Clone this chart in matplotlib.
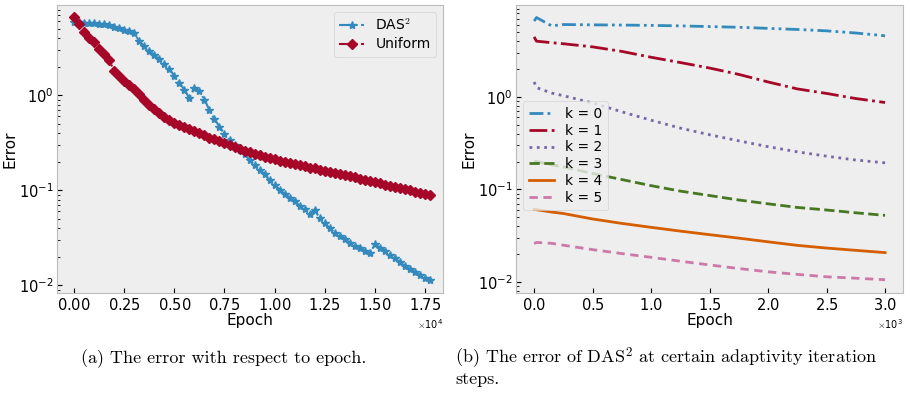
import matplotlib
matplotlib.use("Agg")
import matplotlib.pyplot as plt
import numpy as np

plt.style.use("bmh")

# (a) error vs epoch, values read every 250 epochs
epochs_a = np.arange(0, 17751, 250)
err_das = [5.9, 5.85, 5.8, 5.75, 5.75, 5.7, 5.6, 5.45, 5.3, 5.1, 4.9, 4.75, 4.55,
           3.7, 3.3, 2.95, 2.65, 2.4, 2.15, 1.9, 1.6, 1.35, 1.15, 0.93, 1.2, 1.1,
           0.9, 0.7, 0.56, 0.47, 0.39, 0.34, 0.3, 0.265, 0.24, 0.21, 0.185, 0.165,
           0.148, 0.128, 0.114, 0.102, 0.092, 0.084, 0.077, 0.069, 0.063, 0.057,
           0.062, 0.051, 0.045, 0.040, 0.036, 0.033, 0.031, 0.028, 0.026, 0.0245,
           0.023, 0.022, 0.027, 0.025, 0.023, 0.021, 0.0195, 0.0175, 0.016, 0.0148,
           0.0138, 0.0128, 0.0120, 0.0115]
err_uni = [6.7, 5.6, 4.6, 4.0, 3.6, 3.1, 2.75, 2.35, 1.8, 1.58, 1.43, 1.28, 1.16,
           1.03, 0.9, 0.8, 0.71, 0.65, 0.59, 0.55, 0.51, 0.485, 0.46, 0.44, 0.42,
           0.4, 0.38, 0.36, 0.345, 0.33, 0.315, 0.30, 0.285, 0.272, 0.262, 0.252,
           0.243, 0.235, 0.227, 0.22, 0.213, 0.206, 0.20, 0.195, 0.19, 0.184, 0.179,
           0.174, 0.170, 0.165, 0.161, 0.157, 0.153, 0.149, 0.145, 0.141, 0.137,
           0.133, 0.129, 0.126, 0.122, 0.119, 0.115, 0.112, 0.109, 0.106, 0.103,
           0.100, 0.097, 0.094, 0.091, 0.089]

# (b) error at adaptivity steps k
epochs_b = [0, 20, 150, 250, 500, 750, 1000, 1250, 1500, 1750, 2000, 2250, 2500, 2750, 3000]
err_k0 = [6.6, 7.2, 5.85, 6.05, 6.0, 5.97, 5.92, 5.85, 5.75, 5.65, 5.5, 5.35, 5.17, 4.9, 4.57]
err_k1 = [4.45, 4.0, 3.85, 3.75, 3.47, 3.1, 2.68, 2.35, 2.05, 1.75, 1.45, 1.22, 1.09, 0.96, 0.87]
err_k2 = [1.45, 1.26, 1.1, 1.03, 0.86, 0.69, 0.56, 0.46, 0.39, 0.335, 0.29, 0.255, 0.229, 0.208, 0.194]
err_k3 = [0.203, 0.2, 0.185, 0.175, 0.149, 0.128, 0.11, 0.096, 0.086, 0.077, 0.070, 0.064, 0.060, 0.056, 0.0525]
err_k4 = [0.061, 0.0605, 0.057, 0.055, 0.048, 0.043, 0.039, 0.0355, 0.0325, 0.0298, 0.0272, 0.0249, 0.0233, 0.022, 0.0208]
err_k5 = [0.026, 0.0268, 0.0262, 0.025, 0.0224, 0.0203, 0.0185, 0.0168, 0.0153, 0.014, 0.0129, 0.0121, 0.0114, 0.011, 0.0106]
k_curves = [err_k0, err_k1, err_k2, err_k3, err_k4, err_k5]
k_labels = ["k = 0", "k = 1", "k = 2", "k = 3", "k = 4", "k = 5"]
k_styles = [(0, (5, 1.5, 1, 1.5, 1, 1.5)), "-.", ":", "--", "-", (0, (3, 2))]

fig = plt.figure(figsize=(9.2, 3.95), dpi=100)
ax1 = fig.add_axes([0.062, 0.258, 0.4196, 0.729])
ax2 = fig.add_axes([0.561, 0.258, 0.4206, 0.729])

ax1.plot(epochs_a, err_das, linestyle="-.", marker="*", markersize=6, lw=1.5,
         color="#348ABD", label="DAS$^2$")
ax1.plot(epochs_a, err_uni, linestyle="-.", marker="D", markersize=5.5, lw=1.5,
         color="#A60628", label="Uniform")
ax1.set_xlim(-850, 18400)
ax1.set_ylim(0.0083, 8.9)
ax1.set_xticks(np.arange(0, 17501, 2500))
ax1.legend(loc="upper right", fontsize=10, handlelength=1.8, labelspacing=0.3)

for y, lab, ls in zip(k_curves, k_labels, k_styles):
    ax2.plot(epochs_b, y, linestyle=ls, lw=2, label=lab)
ax2.set_xlim(-154, 3154)
ax2.set_ylim(0.0076, 9.8)
ax2.set_xticks(np.arange(0, 3001, 500))
ax2.legend(loc="upper left", bbox_to_anchor=(0.0, 0.69), fontsize=10,
           handlelength=1.8, handletextpad=0.8, labelspacing=0.2)

for ax in (ax1, ax2):
    ax.set_yscale("log")
    ax.grid(False)
    ax.ticklabel_format(axis="x", style="sci", scilimits=(0, 0), useMathText=True)
    ax.tick_params(which="both", direction="in", labelsize=10.5, pad=2.5)
    ax.xaxis.get_offset_text().set_fontsize(7)
    ax.set_xlabel("Epoch", fontsize=11, labelpad=0)
    ax.set_ylabel("Error", fontsize=11, labelpad=1)

cap = dict(fontfamily="cmr10", fontsize=13, math_fontfamily="cm", va="center")
fig.text(0.243, 0.093, "(a) The error with respect to epoch.", ha="center", **cap)
fig.text(0.495, 0.093, r"(b) The error of DAS$^2$ at certain adaptivity iteration",
         ha="left", **cap)
fig.text(0.495, 0.039, "steps.", ha="left", **cap)

fig.savefig("out.png", dpi=100)
